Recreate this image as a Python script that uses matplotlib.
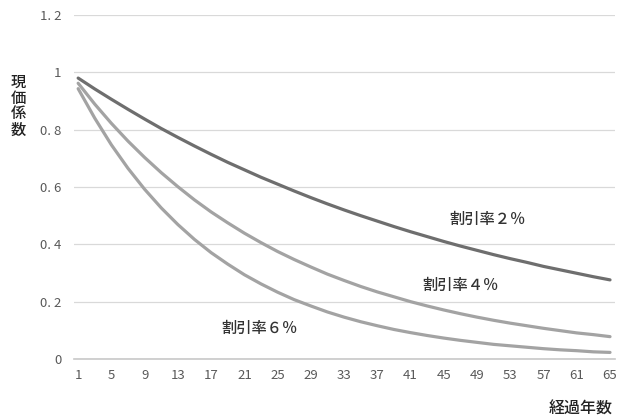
import matplotlib
matplotlib.use("Agg")
import matplotlib.pyplot as plt

plt.rcParams["font.family"] = ["Noto Sans CJK JP", "DejaVu Sans"]

# elapsed years (every second year) and present value factors
years = list(range(1, 66, 2))
pv_2 = [0.980, 0.942, 0.906, 0.871, 0.837, 0.804, 0.773, 0.743, 0.714, 0.686,
        0.660, 0.634, 0.610, 0.586, 0.563, 0.541, 0.520, 0.500, 0.481, 0.462,
        0.444, 0.427, 0.410, 0.394, 0.379, 0.364, 0.350, 0.337, 0.323, 0.311,
        0.299, 0.287, 0.276]
pv_4 = [0.962, 0.889, 0.822, 0.760, 0.703, 0.650, 0.601, 0.555, 0.513, 0.475,
        0.439, 0.406, 0.375, 0.347, 0.321, 0.296, 0.274, 0.253, 0.234, 0.217,
        0.200, 0.185, 0.171, 0.158, 0.146, 0.135, 0.125, 0.116, 0.107, 0.099,
        0.091, 0.085, 0.078]
pv_6 = [0.943, 0.840, 0.747, 0.665, 0.592, 0.527, 0.469, 0.417, 0.371, 0.331,
        0.294, 0.262, 0.233, 0.207, 0.185, 0.164, 0.146, 0.130, 0.116, 0.103,
        0.092, 0.082, 0.073, 0.065, 0.058, 0.051, 0.046, 0.041, 0.036, 0.032,
        0.029, 0.025, 0.023]

x_ticks = list(range(1, 66, 4))
y_ticks = [0, 0.2, 0.4, 0.6, 0.8, 1.0, 1.2]
y_labels = ["0", "0. 2", "0. 4", "0. 6", "0. 8", "1", "1. 2"]

DARK = "#6e6e6e"
LIGHT = "#a3a3a3"
TXT = "#595959"

fig = plt.figure(figsize=(6.25, 4.19), dpi=100)
ax = fig.add_axes([74 / 625, 1 - 359 / 419, (615 - 74) / 625, (359 - 15) / 419])

ax.plot(years, pv_2, color=DARK, lw=2.3, solid_capstyle="round")
ax.plot(years, pv_4, color=LIGHT, lw=2.3, solid_capstyle="round")
ax.plot(years, pv_6, color=LIGHT, lw=2.3, solid_capstyle="round")

ax.set_xlim(0.5, 65.6)
ax.set_ylim(0, 1.2)
ax.set_yticks(y_ticks)
ax.set_yticklabels(y_labels)
ax.set_xticks(x_ticks)
ax.set_xticklabels([str(v) for v in x_ticks])
ax.grid(axis="y", color="#d9d9d9", lw=0.9)
ax.set_axisbelow(True)
for s in ("top", "right", "left"):
    ax.spines[s].set_visible(False)
ax.spines["bottom"].set_color("#c8c8c8")
ax.spines["bottom"].set_linewidth(1.2)
ax.tick_params(axis="both", length=0, labelsize=9.5, labelcolor=TXT)
ax.tick_params(axis="y", pad=9)
ax.tick_params(axis="x", pad=7)

# curve labels
lab = dict(fontsize=11, color="#333333", ha="center", va="center", fontweight="medium")
ax.text(50.3, 0.485, "割引率２％", **lab)
ax.text(47.0, 0.258, "割引率４％", **lab)
ax.text(22.8, 0.108, "割引率６％", **lab)

# axis titles
fig.text(18 / 625, 1 - 106 / 419, "現\n価\n係\n数", fontsize=11, color="#222222",
         ha="center", va="center", linespacing=0.92, fontweight="medium")
fig.text(613 / 625, 1 - 409 / 419, "経過年数", fontsize=11.5, color="#222222",
         ha="right", va="center", fontweight="medium")

fig.savefig("out.png", dpi=100)
